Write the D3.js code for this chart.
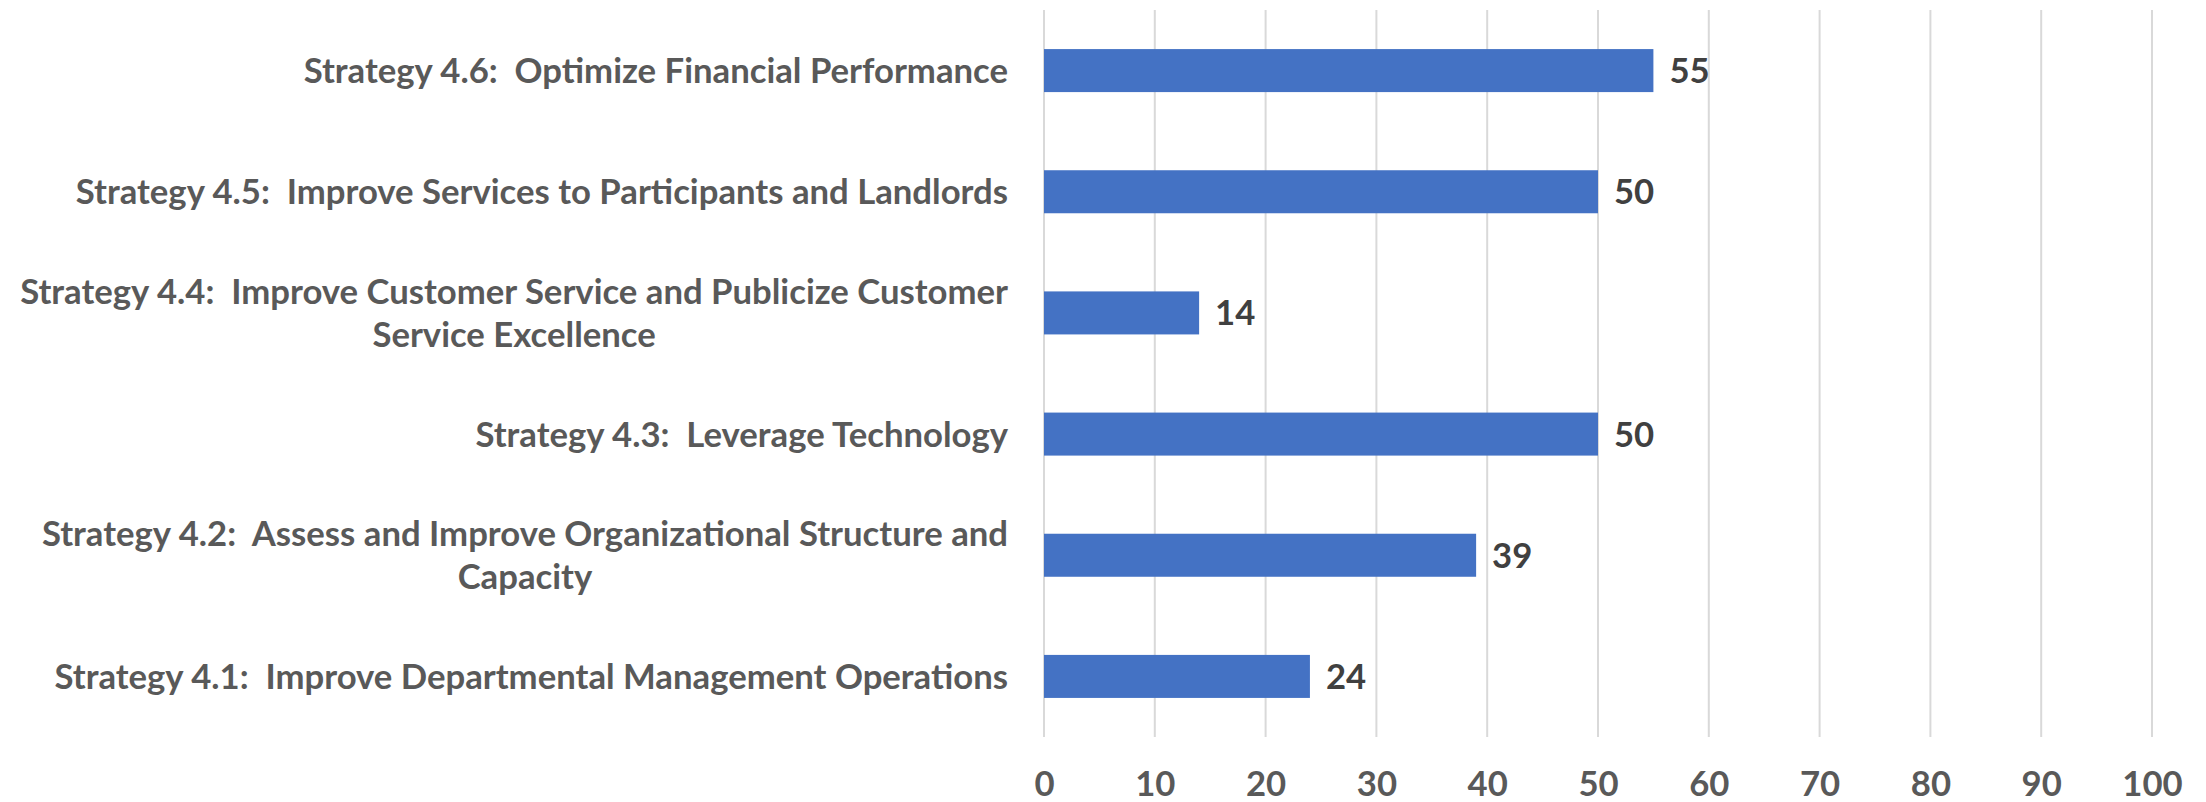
<!DOCTYPE html>
<html>
<head>
<meta charset="utf-8">
<script src="https://cdn.jsdelivr.net/npm/d3@7"></script>
<style>
  body { margin: 0; background: #fff; }
  svg { display: block; }
  text { white-space: pre; }
</style>
</head>
<body>
<svg id="chart"></svg>
<script>
// data, top to bottom as shown
const categories = [
  'Strategy 4.6:  Optimize Financial Performance',
  'Strategy 4.5:  Improve Services to Participants and Landlords',
  'Strategy 4.4:  Improve Customer Service and Publicize Customer Service Excellence',
  'Strategy 4.3:  Leverage Technology',
  'Strategy 4.2:  Assess and Improve Organizational Structure and Capacity',
  'Strategy 4.1:  Improve Departmental Management Operations'
];
const values = [55, 50, 14, 50, 39, 24];
const xTicks = [0, 10, 20, 30, 40, 50, 60, 70, 80, 90, 100];

// set up svg
const w = 2206;
const h = 802;
const margin = { top: 10, right: 54, bottom: 65, left: 1044 };
const fontFamily = 'Lato, "Open Sans", sans-serif';
const fontSize = 34.7;

const svg = d3.select('#chart')
  .attr('width', w)
  .attr('height', h);

const x = d3.scaleLinear()
  .domain([0, 100])
  .range([margin.left, w - margin.right]);

const y = d3.scaleBand()
  .domain(categories)
  .range([margin.top, h - margin.bottom])
  .paddingInner(0.645)
  .paddingOuter(0.3225);

// gridlines
svg.append('g')
  .selectAll('line')
  .data(xTicks)
  .join('line')
  .attr('x1', d => x(d))
  .attr('x2', d => x(d))
  .attr('y1', margin.top)
  .attr('y2', h - margin.bottom)
  .attr('stroke', '#d9d9d9')
  .attr('stroke-width', 2);

// x axis labels
const xAxis = d3.axisBottom(x)
  .tickValues(xTicks)
  .tickSize(0)
  .tickPadding(0);

svg.append('g')
  .attr('transform', `translate(0, ${h - margin.bottom})`)
  .call(xAxis)
  .call(g => g.select('.domain').remove())
  .call(g => g.selectAll('text')
    .attr('dy', null)
    .attr('y', 59)
    .attr('fill', '#595959')
    .attr('font-family', fontFamily)
    .attr('font-weight', 700)
    .attr('font-size', fontSize));

// bars
svg.append('g')
  .selectAll('rect')
  .data(values)
  .join('rect')
  .attr('x', x(0))
  .attr('y', (d, i) => y(categories[i]))
  .attr('width', d => x(d) - x(0))
  .attr('height', y.bandwidth())
  .attr('fill', '#4472c4');

// value labels
svg.append('g')
  .selectAll('text')
  .data(values)
  .join('text')
  .attr('x', d => x(d) + 16)
  .attr('y', (d, i) => y(categories[i]) + y.bandwidth() / 2)
  .attr('dy', '0.36em')
  .attr('fill', '#404040')
  .attr('font-family', fontFamily)
  .attr('font-weight', 700)
  .attr('font-size', fontSize)
  .text(d => d);

// category labels, wrapped and centred inside a right-aligned block
const labelRight = margin.left - 36;
const maxLabelWidth = 1015;
const lineHeight = 43.5;

const labels = svg.append('g')
  .attr('fill', '#595959')
  .attr('font-family', fontFamily)
  .attr('font-weight', 700)
  .attr('font-size', fontSize);

const measure = labels.append('text')
  .attr('xml:space', 'preserve')
  .attr('visibility', 'hidden');
const textWidth = s => measure.text(s).node().getComputedTextLength();

categories.forEach(cat => {
  const words = cat.split(' ');
  const lines = [];
  let line = '';
  words.forEach(word => {
    const test = line === '' ? word : line + ' ' + word;
    if (line !== '' && word !== '' && textWidth(test) > maxLabelWidth) {
      lines.push(line);
      line = word;
    } else {
      line = test;
    }
  });
  lines.push(line);

  const blockW = d3.max(lines, textWidth);
  const cy = y(cat) + y.bandwidth() / 2;
  const t = labels.append('text')
    .attr('xml:space', 'preserve')
    .attr('text-anchor', 'middle')
    .attr('y', cy - (lines.length - 1) * lineHeight / 2);
  lines.forEach((l, i) => {
    t.append('tspan')
      .attr('x', labelRight - blockW / 2)
      .attr('dy', i === 0 ? '0.36em' : lineHeight)
      .text(l);
  });
});
measure.remove();
</script>
</body>
</html>
